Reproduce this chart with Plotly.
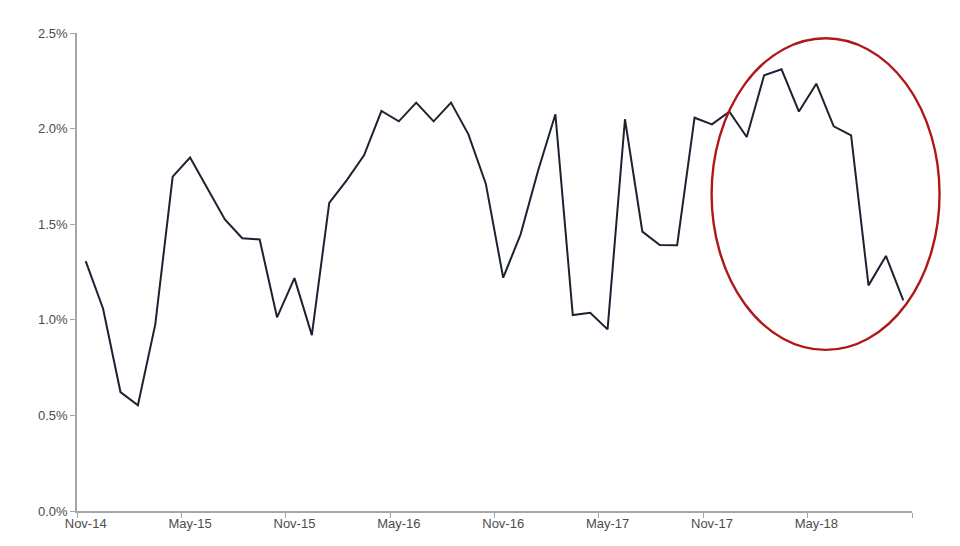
import plotly.graph_objects as go

months = ["Nov-14","Dec-14","Jan-15","Feb-15","Mar-15","Apr-15","May-15","Jun-15","Jul-15","Aug-15","Sep-15","Oct-15",
          "Nov-15","Dec-15","Jan-16","Feb-16","Mar-16","Apr-16","May-16","Jun-16","Jul-16","Aug-16","Sep-16","Oct-16",
          "Nov-16","Dec-16","Jan-17","Feb-17","Mar-17","Apr-17","May-17","Jun-17","Jul-17","Aug-17","Sep-17","Oct-17",
          "Nov-17","Dec-17","Jan-18","Feb-18","Mar-18","Apr-18","May-18","Jun-18","Jul-18","Aug-18","Sep-18","Oct-18"]
values = [1.307, 1.058, 0.622, 0.553, 0.976, 1.749, 1.849, 1.685, 1.525, 1.427, 1.420, 1.013,
          1.218, 0.920, 1.612, 1.729, 1.860, 2.092, 2.038, 2.136, 2.038, 2.136, 1.970, 1.712,
          1.220, 1.447, 1.778, 2.075, 1.025, 1.037, 0.950, 2.049, 1.461, 1.391, 1.390, 2.057,
          2.022, 2.089, 1.956, 2.279, 2.310, 2.089, 2.235, 2.012, 1.965, 1.180, 1.334, 1.102]
label_every = 6
y_ticks = [0.0, 0.5, 1.0, 1.5, 2.0, 2.5]

idx = list(range(len(months)))
label_idx = idx[::label_every]

fig = go.Figure()
fig.add_trace(go.Scatter(x=idx, y=values, mode="lines",
                         line=dict(color="#1c2230", width=2), hoverinfo="skip"))

axis_col = "#a6a6a6"
font_col = "#4d4d4d"
fig.update_layout(
    width=960, height=546,
    margin=dict(l=69, r=56, t=25, b=43),
    plot_bgcolor="white", paper_bgcolor="white",
    showlegend=False,
    font=dict(family="Liberation Sans, Arial, sans-serif", size=13, color=font_col),
    xaxis=dict(range=[-0.5, len(months) - 0.5],
               tickvals=label_idx, ticktext=[months[i] for i in label_idx],
               ticks="", showgrid=False, zeroline=False,
               showline=True, linecolor=axis_col, linewidth=1.5,
               minor=dict(tickmode="linear", tick0=-0.5, dtick=label_every,
                          ticks="outside", ticklen=5, tickcolor=axis_col, tickwidth=1, showgrid=False),
               tickfont=dict(size=13, color=font_col)),
    yaxis=dict(range=[0, 2.5], tickvals=y_ticks,
               ticktext=[f"{v:.1f}%" for v in y_ticks],
               ticks="outside", ticklen=5, tickcolor=axis_col,
               showgrid=False, zeroline=False,
               showline=True, linecolor=axis_col, linewidth=1.5,
               tickfont=dict(size=13, color=font_col)),
)

fig.add_shape(type="circle", xref="paper", yref="paper",
              x0=0.760, x1=1.033, y0=0.337, y1=0.989,
              line=dict(color="#b01818", width=2.4), layer="above")

fig.write_html("out.html")
